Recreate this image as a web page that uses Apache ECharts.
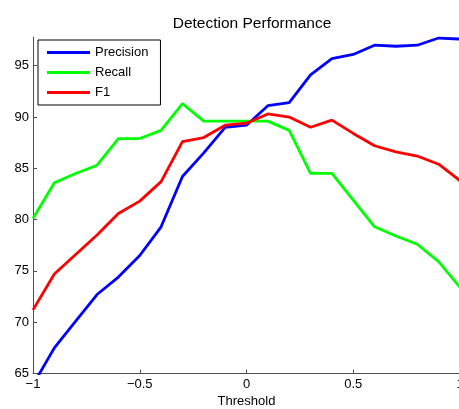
<!DOCTYPE html>
<html>
<head>
<meta charset="utf-8">
<script src="https://cdn.jsdelivr.net/npm/echarts@6/dist/echarts.min.js"></script>
<style>
  html, body { margin: 0; padding: 0; background: #fff; }
  #chart { width: 459px; height: 409px; }
</style>
</head>
<body>
<div id="chart"></div>
<script>
// Detection threshold sweep and the resulting scores (%)
const thresholds = [-1, -0.9, -0.8, -0.7, -0.6, -0.5, -0.4, -0.3, -0.2, -0.1, 0,
                    0.1, 0.2, 0.3, 0.4, 0.5, 0.6, 0.7, 0.8, 0.9, 1];
const precision = [63.9, 67.5, 70.1, 72.7, 74.4, 76.5, 79.3, 84.2, 86.5, 89.0, 89.2,
                   91.1, 91.4, 94.1, 95.7, 96.1, 97.0, 96.9, 97.0, 97.7, 97.6];
const recall    = [80.1, 83.6, 84.5, 85.3, 87.9, 87.9, 88.7, 91.3, 89.6, 89.6, 89.6,
                   89.6, 88.7, 84.5, 84.5, 81.9, 79.3, 78.4, 77.6, 75.9, 73.4];
const f1        = [71.2, 74.7, 76.6, 78.5, 80.6, 81.8, 83.7, 87.6, 88.0, 89.2, 89.4,
                   90.3, 90.0, 89.0, 89.7, 88.4, 87.2, 86.6, 86.2, 85.4, 83.8];
const seriesNames = ['Precision', 'Recall', 'F1'];
const seriesColors = ['#0000ff', '#00ff00', '#ff0000'];
const xTicks = [-1, -0.5, 0, 0.5, 1];
const yTicks = [65, 70, 75, 80, 85, 90, 95];

const pairs = vals => thresholds.map((t, i) => [t, vals[i]]);
const seriesValues = [precision, recall, f1];

const axisColor = '#4d4d4d';
const font = '"Liberation Sans", Arial, sans-serif';

const chart = echarts.init(document.getElementById('chart'), null, { renderer: 'canvas' });
chart.setOption({
  animation: false,
  backgroundColor: '#fff',
  title: {
    text: 'Detection Performance',
    left: 247, top: 11, textAlign: 'center',
    textStyle: { fontFamily: font, fontSize: 15.5, fontWeight: 'normal', color: '#000' }
  },
  grid: { left: 33, top: 37, width: 427, height: 336.5, containLabel: false, outerBoundsMode: 'none' },
  legend: {
    orient: 'vertical',
    left: 38, top: 40,
    data: seriesNames,
    icon: 'rect',
    itemWidth: 43, itemHeight: 3,
    itemGap: 5,
    padding: [5, 12, 5, 9],
    borderColor: '#000', borderWidth: 1,
    backgroundColor: '#fff',
    textStyle: { fontFamily: font, fontSize: 13, color: '#000', lineHeight: 15 }
  },
  xAxis: {
    type: 'value', min: -1, max: 1, interval: 0.5,
    name: 'Threshold', nameLocation: 'middle', nameGap: 19,
    nameTextStyle: { fontFamily: font, fontSize: 13, color: '#000' },
    axisLine: { onZero: false, lineStyle: { color: axisColor, width: 1 } },
    axisTick: { inside: true, length: 4, lineStyle: { color: axisColor } },
    axisLabel: {
      fontFamily: font, fontSize: 13, color: '#000', margin: 4,
      formatter: v => xTicks.includes(v) ? String(v).replace('-', '\u2212') : ''
    },
    splitLine: { show: false }
  },
  yAxis: {
    type: 'value', min: 65, max: 97.8, interval: 5,
    axisLine: { show: true, onZero: false, lineStyle: { color: axisColor, width: 1 } },
    axisTick: { show: true, inside: true, length: 4, lineStyle: { color: axisColor } },
    axisLabel: {
      fontFamily: font, fontSize: 13, color: '#000', margin: 4,
      showMaxLabel: false,
      formatter: v => yTicks.includes(v) ? String(v) : ''
    },
    splitLine: { show: false }
  },
  series: seriesNames.map((name, k) => ({
    name,
    type: 'line',
    data: pairs(seriesValues[k]),
    symbol: 'none',
    clip: true,
    color: seriesColors[k],
    lineStyle: { color: seriesColors[k], width: 2.8 }
  }))
});
</script>
</body>
</html>
